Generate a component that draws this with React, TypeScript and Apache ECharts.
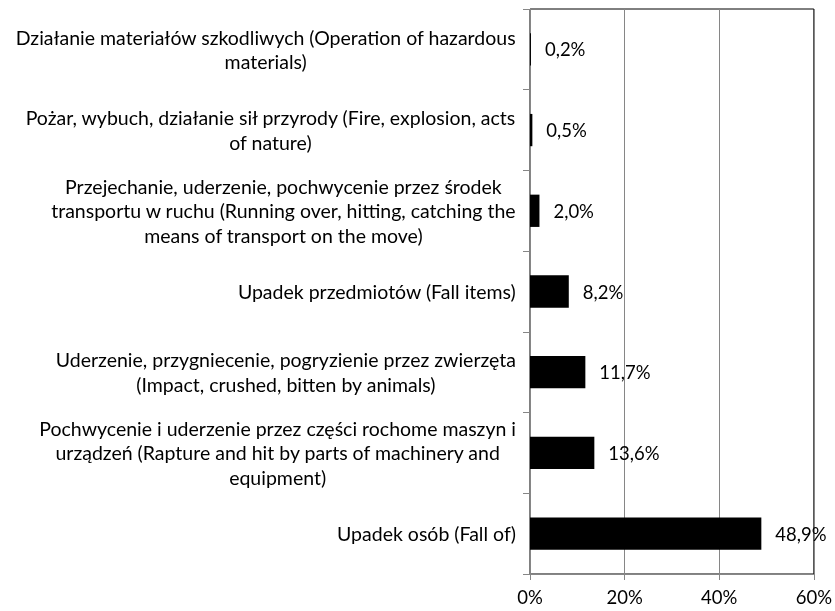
import React, { useEffect, useRef } from "react";
import * as echarts from "echarts";

const categories = [
  "Upadek osób (Fall of)",
  "Pochwycenie i uderzenie przez części rochome maszyn i\nurządzeń (Rapture and hit by parts of machinery and\nequipment)",
  "Uderzenie, przygniecenie, pogryzienie przez zwierzęta\n(Impact, crushed, bitten by animals)",
  "Upadek przedmiotów (Fall items)",
  "Przejechanie, uderzenie, pochwycenie przez środek\ntransportu w ruchu (Running over, hitting, catching the\nmeans of transport on the move)",
  "Pożar, wybuch, działanie sił przyrody (Fire, explosion, acts\nof nature)",
  "Działanie materiałów szkodliwych (Operation of hazardous\nmaterials)",
];
const values = [48.9, 13.6, 11.7, 8.2, 2.0, 0.5, 0.2];
const xTicks = [0, 20, 40, 60];

const FONT = "Lato";

export default function App() {
  const ref = useRef<HTMLDivElement>(null);
  useEffect(() => {
    if (!ref.current) return;
    const chart = echarts.init(ref.current, null, { renderer: "svg" });
    chart.setOption({
      animation: false,
      grid: {
        left: 530,
        right: 20,
        top: 9,
        bottom: 37,
        show: true,
        borderColor: "#000",
        borderWidth: 1,
        containLabel: false,
      },
      xAxis: {
        type: "value",
        min: xTicks[0],
        max: xTicks[xTicks.length - 1],
        interval: 20,
        axisLine: { show: true, lineStyle: { color: "#868686", width: 1 } },
        axisTick: { show: true, length: 6, lineStyle: { color: "#868686" } },
        splitLine: { show: true, lineStyle: { color: "#868686", width: 1 } },
        axisLabel: {
          formatter: (v: number) => `${v}%`,
          color: "#000",
          fontFamily: FONT,
          fontSize: 18.5,
          margin: 13,
        },
      },
      yAxis: {
        type: "category",
        data: categories,
        axisLine: { show: true, lineStyle: { color: "#868686", width: 1 } },
        axisTick: { show: true, length: 7, lineStyle: { color: "#868686" } },
        axisLabel: {
          color: "#000",
          fontFamily: FONT,
          fontSize: 19.5,
          lineHeight: 24.5,
          align: "right",
          margin: 14,
          formatter: (v: string) => `{c|${v}}`,
          rich: {
            c: {
              align: "center",
              color: "#000",
              fontFamily: FONT,
              fontSize: 19.5,
              lineHeight: 24.5,
            },
          },
        },
      },
      series: [
        {
          type: "bar",
          data: values,
          barCategoryGap: "60%",
          itemStyle: { color: "#000" },
          label: {
            show: true,
            position: "right",
            distance: 14,
            color: "#000",
            fontFamily: FONT,
            fontSize: 18.5,
            formatter: (p: any) => `${p.value.toFixed(1).replace(".", ",")}%`,
          },
        },
      ],
    });
    return () => chart.dispose();
  }, []);
  return (
    <div
      ref={ref}
      style={{ position: "fixed", left: 0, top: 0, width: 835, height: 611 }}
    />
  );
}
